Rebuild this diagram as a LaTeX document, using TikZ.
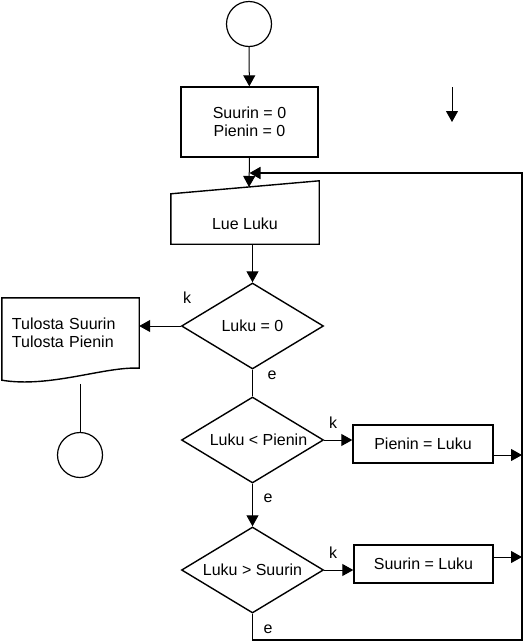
\documentclass[tikz,border=0pt]{standalone}
\usepackage{fontspec}
\setmainfont{Liberation Sans}
\usetikzlibrary{arrows.meta,shapes.geometric,calc}
\begin{document}
\begin{tikzpicture}[x=1pt,y=-1pt,
  font=\fontsize{16}{18.5}\selectfont,
  box/.style={draw, line width=1.4pt, inner sep=0pt, align=center},
  cond/.style={diamond, draw, line width=1.4pt, inner sep=0pt, aspect=1.65, minimum width=142pt, minimum height=86pt},
  term/.style={circle, draw, line width=1.2pt, minimum size=45pt, inner sep=0pt},
  conn/.style={line width=1pt},
  arr/.style={line width=1pt, -{Triangle[length=11pt,width=12pt]}},
  loopline/.style={line width=1.7pt, line join=miter},
  lbl/.style={inner sep=0pt}]
\useasboundingbox (0,0) rectangle (528,643);

% nodes
\node[term] (start) at (249,24) {};
\node[box, minimum width=137pt, minimum height=70pt] (init) at (249.5,122) {Suurin = 0\\Pienin = 0};
\node[inner sep=0pt, minimum width=148pt, minimum height=40pt] (lue) at (245,224) {Lue Luku};
\draw[line width=1.4pt] ([yshift=10pt]lue.north west) -- ([yshift=23pt]lue.north east) -- (lue.south east) -- (lue.south west) -- cycle;
\coordinate (luein) at (249,187);
\node[cond] (d1) at (252.5,326) {Luku = 0};
\node[cond] (d2) at (252.5,440) {\hspace*{12pt}Luku < Pienin};
\node[cond] (d3) at (252.5,570) {Luku > Suurin};
\node[box, minimum width=140pt, minimum height=38pt] (pbox) at (423,444) {Pienin = Luku};
\node[box, minimum width=139pt, minimum height=38pt] (sbox) at (423.5,564) {Suurin = Luku};
\node[inner sep=0pt, minimum width=137pt, minimum height=70pt, text width=117pt, align=left] (doc) at (70.5,333) {Tulosta Suurin\\Tulosta Pienin};
\draw[line width=1.4pt] (doc.north west) -- (doc.north east) -- (doc.south east)
  .. controls ($(doc.south east)+(-34,-2)$) and ($(doc.south west)+(48,20)$) .. ($(doc.south west)+(0,12)$) -- cycle;
\node[term] (endc) at (80,455) {};

% labels
\node[lbl] (k1) at (187,298) {k};
\node[lbl] (e1) at (272,375) {e};
\node[lbl] (k2) at (333,423) {k};
\node[lbl] (e2) at (268,498) {e};
\node[lbl] (k3) at (333,553) {k};
\node[lbl] (e3) at (268,629) {e};

% coordinates
\coordinate (rt) at (522,173);
\coordinate (rb) at (522,640);
\coordinate (sa) at (452,87);
\coordinate (sb) at (452,122);

% connectors
\draw[arr] (start) -- (init);
\draw[arr] (init.south) -- (luein);
\draw[arr] (d1.north |- lue.south) -- (d1.north);
\draw[arr] (d1.west) -- (d1.west -| doc.east);
\draw[conn] ($(endc.north)+(0,-48)$) -- (endc.north);
\draw[conn] (d1.south) -- (d2.north);
\draw[arr] (d2.east) -- (d2.east -| pbox.west);
\draw[arr] (d2.south) -- (d3.north);
\draw[arr] (d3.east) -- (d3.east -| sbox.west);
\draw[arr] ([yshift=-11pt]pbox.east) -- ([yshift=-11pt]pbox.east -| rt);
\draw[arr] ([yshift=7pt]sbox.east) -- ([yshift=7pt]sbox.east -| rt);
\draw[loopline, -{Triangle[length=11pt,width=12pt]}] (d3.south) -- (d3.south |- rb) -- (rb) -- (rt) -- (init.south |- rt);
\draw[arr] (sa) -- (sb);
\end{tikzpicture}
\end{document}
